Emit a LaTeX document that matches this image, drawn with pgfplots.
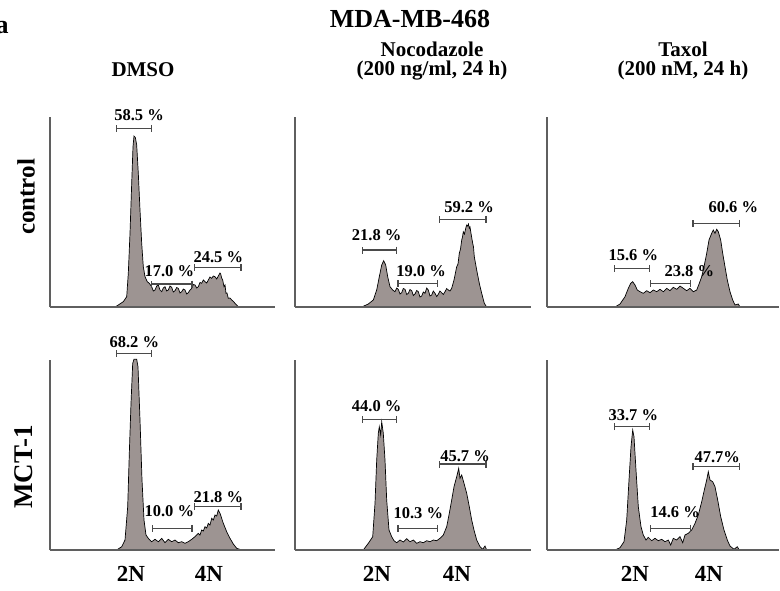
\documentclass[border=0pt]{standalone}
\usepackage{fontspec}
\setmainfont{Liberation Serif}
\usepackage{pgfplots}
\pgfplotsset{compat=1.18}
\usetikzlibrary{arrows.meta}
\definecolor{histfill}{HTML}{9D9492}
\definecolor{axgray}{HTML}{5F5F5F}
\definecolor{gategray}{HTML}{4A4A4A}
\pgfplotsset{
  hist/.style={scale only axis, axis lines*=left, xtick=\empty, ytick=\empty,
    xmin=0, ymin=0, ymax=190, height=190pt, clip=false, axis on top,
    axis line style={draw=axgray, line width=1.5pt}},
  histplot/.style={fill=histfill, draw=black, line width=0.7pt}
}
\newcommand{\gate}[3]{\draw[gategray, line width=1.3pt, {Bar[width=7pt,line width=1.3pt]}-{Bar[width=7pt,line width=1.3pt]}] (axis cs:#1,#3) -- (axis cs:#2,#3);}
\newcommand{\pct}[3]{\node[font=\fontsize{16.5}{18}\selectfont\bfseries, inner sep=0pt] at (axis cs:#1,#2) {#3};}
\begin{document}
\begin{tikzpicture}
\useasboundingbox (0pt,0pt) rectangle (780pt,-590pt);
% texts
\node[font=\fontsize{26}{28}\selectfont\bfseries, anchor=base, inner sep=0pt] at (2pt,-33pt) {a};
\node[font=\fontsize{26}{28}\selectfont\bfseries, anchor=base, inner sep=0pt] at (410pt,-27pt) {MDA-MB-468};
\node[font=\fontsize{21}{23}\selectfont\bfseries, anchor=base, inner sep=0pt] at (143pt,-76pt) {DMSO};
\node[font=\fontsize{21}{23}\selectfont\bfseries, anchor=base, inner sep=0pt] at (432pt,-56pt) {Nocodazole};
\node[font=\fontsize{21}{23}\selectfont\bfseries, anchor=base, inner sep=0pt] at (432pt,-75.5pt) {(200 ng/ml, 24 h)};
\node[font=\fontsize{21}{23}\selectfont\bfseries, anchor=base, inner sep=0pt] at (683pt,-56pt) {Taxol};
\node[font=\fontsize{21}{23}\selectfont\bfseries, anchor=base, inner sep=0pt] at (683pt,-75.5pt) {(200 nM, 24 h)};
\node[font=\fontsize{25}{27}\selectfont\bfseries, rotate=90] at (26pt,-197pt) {control};
\node[font=\fontsize{27}{29}\selectfont\bfseries, rotate=90] at (24pt,-467pt) {MCT-1};
\foreach \xx/\tt in {131/2N, 209/4N, 377/2N, 457/4N, 635/2N, 709/4N}{
  \node[font=\fontsize{23}{25}\selectfont\bfseries, anchor=base] at (\xx pt,-581pt) {\tt};
}

% ---------- panel 1: DMSO control
\begin{axis}[hist, width=225pt, xmax=225, at={(50pt,-307pt)}, anchor=south west]
\addplot[histplot] coordinates {
(65,0) (68.3,2) (73.3,5.3) (76.7,10.3) (78.3,33.7) (80,73.7) (81.7,123.7) (83,160.3) (84,171) (85.3,169.7) (86.7,162) (88.3,133.7) (90,97) (91.7,63.7) (93.3,40.3) (95,30.3) (97.3,25.3) (99.3,23.7)
(101.7,20.3) (103.3,16) (105,17) (106.7,21) (108.3,22) (110,17) (111.7,15.3) (113.3,19) (115,20.3) (116.7,16) (118.3,17) (120,21) (121.7,19.7) (123.3,15) (125,16.3) (126.7,19.5) (128.3,18.7) (130,14) (131.7,15.3) (133.3,18) (135,17) (136.7,13) (138.3,14.3) (140,17) (141.7,18.7) (143.3,22.5) (145,22) (146.7,19) (148.3,20.3) (150,24.5) (151.7,23.7) (153.3,27) (155,25.3) (156.7,24) (158.3,27) (160,30) (161.7,28.7) (163.3,31) (165,30.3) (166.7,28) (168.3,31) (170,34) (170.7,33) (171.7,29) (172.7,27) (174,20.3) (175,22) (176,13.7) (177,14) (178.3,8.7) (180,9) (181.7,7) (183,6) (185,3.7) (188.3,0.3) (190,0)
} \closedcycle;
\gate{66}{102}{178.7}
\pct{89}{192}{58.5 \%}
\gate{101}{142.7}{23}
\pct{119.3}{36.3}{17.0 \%}
\gate{144}{191.7}{39.7}
\pct{168.3}{50.3}{24.5 \%}
\end{axis}

% ---------- panel 2: Nocodazole control
\begin{axis}[hist, width=236pt, xmax=236, at={(295pt,-307pt)}, anchor=south west]
\addplot[histplot] coordinates {
(66.7,0) (73.3,3) (78.3,7) (81.7,17) (84.3,30.3) (86.7,42) (88.7,46.3) (90.7,42) (92.7,30.3) (95,20.3) (97.7,17)
(100,15.3) (101.7,19) (103.3,17.7) (105,13) (106.7,14.3) (108.3,18.5) (110,17.7) (111.7,12.5) (113.3,13.7) (115,17.5) (116.7,16.3) (118.3,11.5) (120,13) (121.7,16.5) (123.3,15.3) (125,10) (126.7,11) (128.3,15) (130,13.7) (131.7,19) (133.3,17) (135,11) (136.7,12) (138.3,16) (140,13.7) (141.7,10.5) (143.3,12.7) (145,16) (146.7,14.3) (148.3,12.5) (150,15.3) (151.7,18.5) (153.3,17) (155,16) (156.7,18.7)
(159,27) (161.7,40.3) (163,43) (164.3,53.7) (165.5,58) (166.7,67) (167.5,70) (168.3,75.3) (169.5,73) (170.7,78.7) (171.7,82) (172.7,81) (173.5,83) (174.3,78.7) (175,80) (176,73.7) (177.7,63.7) (178.5,60) (179.3,50.3) (181.7,37) (184.3,23.7) (186.7,13.7) (189.3,3.7) (191.7,0)
} \closedcycle;
\gate{66.7}{102.3}{57}
\pct{81.7}{72}{21.8 \%}
\gate{102.3}{143.3}{23.7}
\pct{126}{36.3}{19.0 \%}
\gate{144}{191.7}{87.7}
\pct{174}{100.3}{59.2 \%}
\end{axis}

% ---------- panel 3: Taxol control
\begin{axis}[hist, width=232pt, xmax=232, at={(547pt,-307pt)}, anchor=south west]
\addplot[histplot] coordinates {
(68,0) (73,3) (78,10.3) (81.3,18.7) (83.7,23.7) (85.7,25.3) (88,22) (90.3,17) (93,15.3)
(96.3,13.7) (99.7,16.3) (103,14.3) (106.3,17) (109.7,15.3) (113,17.7) (116.3,15.3) (119.7,18.7) (123,16.3) (126.3,19.7) (129.7,17.7) (133,21) (136.3,18.7) (139.7,16.3) (143,18.7) (146.3,15.3) (149.7,17)
(152.3,23.7) (154.7,30.3) (157,40.3) (159.7,53.7) (162,67) (164.7,73.7) (166.3,77) (168,73.7) (169.7,77.7) (171.3,75.3) (173.7,67) (175.7,53.7) (178,40.3) (180.3,27) (183,15.3) (185.7,7) (188,2) (191.3,3) (193,0)
} \closedcycle;
\gate{67}{103}{38.7}
\pct{86.3}{52}{15.6 \%}
\gate{103}{144}{23.7}
\pct{142.3}{36.3}{23.8 \%}
\gate{145.3}{193}{83.7}
\pct{186.3}{100.3}{60.6 \%}
\end{axis}

% ---------- panel 4: DMSO MCT-1
\begin{axis}[hist, width=225pt, xmax=225, at={(50pt,-550pt)}, anchor=south west]
\addplot[histplot] coordinates {
(66.7,0) (71.7,3.3) (75,10) (77.7,43.3) (79.3,96.7) (81,146.7) (82.7,186.7) (84,190.7) (86.7,190.7) (88,183.3) (90,130) (92,70) (94,30) (96,15) (98.3,11.7)
(101.7,8.3) (105,10.7) (108.3,8.3) (111.7,11.7) (115,7.3) (118.3,10.7) (121.7,8.3) (125,10) (128.3,7.3) (131.7,8.3) (135,6.7) (138.3,8.3) (141.7,10.7) (145,13.3) (148.3,16.7) (150,15) (151.7,20) (153.3,19) (155,23.3) (156.7,22) (158.3,26.7) (160,25) (161.7,31.7) (163.3,30) (165,35) (166.7,34) (168.3,40) (170,36.7) (173.3,26.7) (176.7,18.3) (180,11.7) (183.3,6) (186.7,1.7) (191.7,0)
} \closedcycle;
\gate{66}{102}{196.7}
\pct{84.3}{208.3}{68.2 \%}
\gate{101.7}{142.7}{21.7}
\pct{119.3}{39.3}{10.0 \%}
\gate{144}{191.7}{43.3}
\pct{168.3}{53.3}{21.8 \%}
\end{axis}

% ---------- panel 5: Nocodazole MCT-1
\begin{axis}[hist, width=236pt, xmax=236, at={(295pt,-550pt)}, anchor=south west]
\addplot[histplot] coordinates {
(68.3,0) (73.3,6.7) (77.7,13.3) (80,46.7) (81.7,90) (83.3,116.7) (84.3,123.3) (85.7,115) (86.7,128.3) (88.3,116.7) (90,90) (91.7,50) (94,20) (96.7,13.3) (99,9.3)
(101.7,7.3) (105,10) (108.3,8) (111.7,11.3) (115,8.3) (118.3,10) (121.7,6.7) (125,8.3) (128.3,7.3) (131.7,9.3) (135,8.3) (138.3,10) (141.7,9.3) (145,11.7) (148.3,15)
(151.7,23.3) (154.3,36.7) (156.7,50) (159,63.3) (161.7,73.3) (163.7,81.7) (165,71.7) (166.7,75) (169,66.7) (171.7,56.7) (174.3,43.3) (176.7,30) (179,20) (181.7,10) (185,3.3) (187.7,0.7) (190,4) (191.7,0)
} \closedcycle;
\gate{66.7}{102.3}{130.7}
\pct{81.7}{144}{44.0 \%}
\gate{102.3}{143.3}{21.7}
\pct{123.3}{37.3}{10.3 \%}
\gate{144}{191.7}{86}
\pct{170}{94}{45.7 \%}
\end{axis}

% ---------- panel 6: Taxol MCT-1
\begin{axis}[hist, width=232pt, xmax=232, at={(547pt,-550pt)}, anchor=south west]
\addplot[histplot] coordinates {
(68,0) (73,2.3) (77,8.3) (79.7,30) (82,70) (84,103.3) (85.7,120) (87,113.3) (89,80) (91.3,43.3) (94,23.3) (96.3,15) (99,10)
(101.3,12.7) (104.7,9.3) (108,11.7) (111.3,9.3) (114.7,10.7) (118,8.3) (121.3,10) (123.7,5) (126.3,11.7) (129.7,10) (133,13.3) (135.7,7.3) (138,15) (141.3,16.7)
(144.7,20) (148,26.7) (151.3,35) (154.7,48.3) (157.3,60) (159.7,70) (161.3,78.3) (163,70) (165.7,68.3) (168,63.3) (170.7,50) (173.7,33.3) (177,20) (180.3,10) (183,4) (187,0.7) (190.3,3.3) (192.3,0)
} \closedcycle;
\gate{67}{103}{123.3}
\pct{86.3}{135}{33.7 \%}
\gate{103}{144}{21.7}
\pct{128}{37.7}{14.6 \%}
\gate{145.3}{193}{83.3}
\pct{170.3}{93.3}{47.7\%}
\end{axis}
\end{tikzpicture}
\end{document}
